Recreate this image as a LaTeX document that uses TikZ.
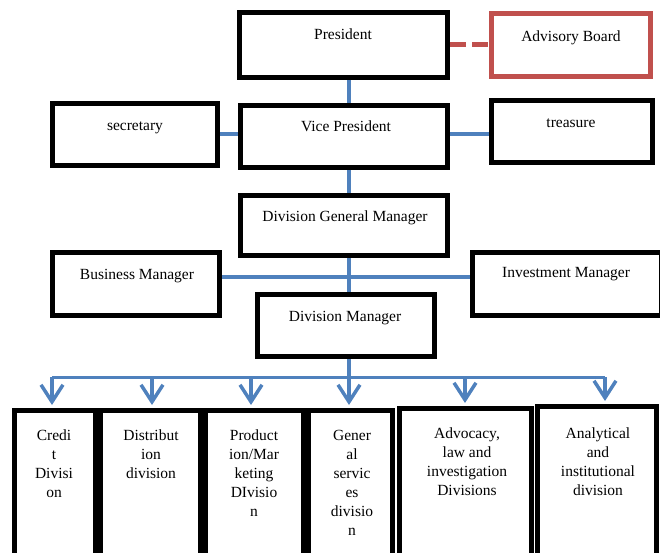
\documentclass[tikz,border=0pt]{standalone}
\usepackage{fontspec}
\setmainfont{Liberation Serif}
\usetikzlibrary{arrows.meta}
\definecolor{linkblue}{HTML}{4F81BD}
\definecolor{boardred}{HTML}{C0504D}

\begin{document}
\begin{tikzpicture}[x=1pt,y=-1pt]
            \tikzstyle{box}=[draw=black,fill=white,line width=5pt,rectangle,inner sep=0pt]
            \tikzstyle{redbox}=[box,draw=boardred]
            \tikzstyle{txt}=[inner sep=0pt,font=\fontsize{15.5}{19}\selectfont]
            \tikzstyle{link}=[draw=linkblue,line width=4pt]
            \tikzstyle{feed}=[link,line width=3.5pt,-{Straight Barb[length=17pt,width=22pt]},shorten >=3pt]
            \tikzstyle{board}=[draw=boardred,line width=5pt,dash pattern=on 16pt off 6pt]
            \useasboundingbox (0,0) rectangle (660,553);
            \clip (0,0) rectangle (660,553);
            \node[box,minimum width=208,minimum height=65] (pres) at (343.5,45) {};
            \node[redbox,minimum width=159,minimum height=63] (adv) at (571,45) {};
            \node[box,minimum width=165,minimum height=62] (sec) at (135,134.5) {};
            \node[box,minimum width=207,minimum height=62] (vp) at (344,136.5) {};
            \node[box,minimum width=161,minimum height=62] (trea) at (572,131.5) {};
            \node[box,minimum width=207,minimum height=60] (dgm) at (344,225.5) {};
            \node[box,minimum width=167,minimum height=63] (bm) at (136,284) {};
            \node[box,minimum width=189,minimum height=63] (im) at (567,284) {};
            \node[box,minimum width=177,minimum height=62] (dm) at (346,325.5) {};
            \node[box,minimum width=81,minimum height=162] (cred) at (55,491.5) {};
            \node[box,minimum width=100,minimum height=162] (dist) at (150.5,491.5) {};
            \node[box,minimum width=98,minimum height=162] (prod) at (254.5,491.5) {};
            \node[box,minimum width=84,minimum height=162] (gen) at (350.5,491.5) {};
            \node[box,minimum width=132,minimum height=164] (advo) at (465.5,490.5) {};
            \node[box,minimum width=119,minimum height=166] (anal) at (597,489.5) {};
            \node[txt,anchor=base] (pres-t) at (343,40) {President};
            \node[txt,anchor=base] (adv-t) at (571,42) {Advisory Board};
            \node[txt,anchor=base] (sec-t) at (135,131) {secretary};
            \node[txt,anchor=base] (vp-t) at (346,131.5) {Vice President};
            \node[txt,anchor=base] (trea-t) at (571,127.5) {treasure};
            \node[txt,anchor=base] (dgm-t) at (345,221) {Division General Manager};
            \node[txt,anchor=base] (bm-t) at (137,279) {Business Manager};
            \node[txt,anchor=base] (im-t) at (566,277.5) {Investment Manager};
            \node[txt,anchor=base] (dm-t) at (345,321.5) {Division Manager};
            \node[txt,align=center,anchor=north] (cred-t) at (54,429.5) {Credi\\t\\Divisi\\on};
            \node[txt,align=center,anchor=north] (dist-t) at (151,429.5) {Distribut\\ion\\division};
            \node[txt,align=center,anchor=north] (prod-t) at (254,429.5) {Product\\ion/Mar\\keting\\DIvisio\\n};
            \node[txt,align=center,anchor=north] (gen-t) at (352,430) {Gener\\al\\servic\\es\\divisio\\n};
            \node[txt,align=center,anchor=north] (advo-t) at (467,427.5) {Advocacy,\\law and\\investigation\\Divisions};
            \node[txt,align=center,anchor=north] (anal-t) at (598,427.5) {Analytical\\and\\institutional\\division};
            \coordinate (spine) at (349,0);
            \coordinate (hub) at (349,277);
            \coordinate (busL) at (52,377);
            \coordinate (busR) at (605,377);
            \draw[board] (pres.east |- adv.west) -- (adv.west);
            \draw[link] (pres.south -| spine) -- (vp.north -| spine);
            \draw[link] (sec.east) -- (vp.west |- sec.east);
            \draw[link] (vp.east |- sec.east) -- (trea.west |- sec.east);
            \draw[link] (vp.south -| spine) -- (dgm.north -| spine);
            \draw[link] (dgm.south -| spine) -- (dm.north -| spine);
            \draw[link] (bm.east |- hub) -- (im.west |- hub);
            \draw[link] (dm.south -| spine) -- (spine |- busL);
            \draw[link,line width=3pt] (busL) -- (busR);
            \foreach \b/\dx in {cred/-3,dist/1.5,prod/-3.5,gen/-1.5,advo/-0.5,anal/8}
                \draw[feed] ([xshift=\dx]\b.north |- busL) -- ([xshift=\dx]\b.north);
            \end{tikzpicture}
\end{document}
